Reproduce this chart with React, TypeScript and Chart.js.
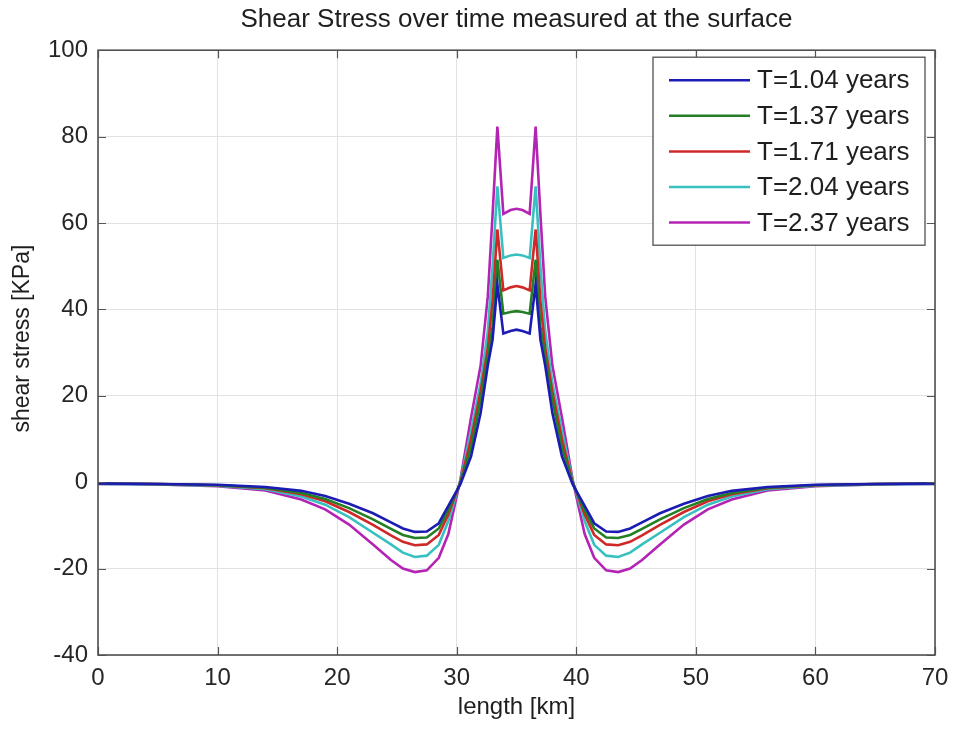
import React, { useEffect, useRef } from "react";
import { Chart, registerables } from "chart.js";

Chart.register(...registerables);

// length along the profile [km]
const lengthKm = [
  0, 5, 10, 14, 17, 19, 21, 23, 24.5, 25.5, 26.5, 27.5, 28.5, 29.3, 30.3, 31.2, 32.0, 32.6, 33.0, 33.4,
  33.9, 34.5, 35, 35.5, 36.1,
  36.6, 37.0, 37.4, 38.0, 38.8, 39.7, 40.7, 41.5, 42.5, 43.5, 44.5, 45.5, 47, 49, 51, 53, 56, 60, 65, 70,
];

const seriesLabels = ["T=1.04 years", "T=1.37 years", "T=1.71 years", "T=2.04 years", "T=2.37 years"];
const yAxisTitle = "shear stress [KPa]";

// shear stress [KPa]
const stressT104 = [
  -0.3, -0.4, -0.6, -1.1, -2.0, -3.2, -5.0, -7.2, -9.3, -10.7, -11.5, -11.4, -9.5, -5.5, -0.5, 6, 16, 27, 33, 45.8,
  34.4, 35.0, 35.3, 35.0, 34.4,
  45.8, 33, 27, 16, 6, -0.5, -5.5, -9.5, -11.4, -11.5, -10.7, -9.3, -7.2, -5.0, -3.2, -2.0, -1.1, -0.6, -0.4, -0.3,
];
const stressT137 = [
  -0.3, -0.4, -0.7, -1.3, -2.5, -3.9, -6.0, -8.6, -10.8, -12.2, -12.9, -12.8, -10.7, -6.5, -0.2, 8, 19, 29, 36, 51.5,
  39.0, 39.4, 39.6, 39.4, 39.0,
  51.5, 36, 29, 19, 8, -0.2, -6.5, -10.7, -12.8, -12.9, -12.2, -10.8, -8.6, -6.0, -3.9, -2.5, -1.3, -0.7, -0.4, -0.3,
];
const stressT171 = [
  -0.3, -0.4, -0.7, -1.4, -2.8, -4.4, -6.9, -9.9, -12.3, -13.8, -14.6, -14.4, -12.2, -7.5, 0, 10, 21, 31, 42, 58.5,
  44.4, 45.1, 45.4, 45.1, 44.4,
  58.5, 42, 31, 21, 10, 0, -7.5, -12.2, -14.4, -14.6, -13.8, -12.3, -9.9, -6.9, -4.4, -2.8, -1.4, -0.7, -0.4, -0.3,
];
const stressT204 = [
  -0.4, -0.5, -0.8, -1.6, -3.3, -5.2, -8.1, -11.7, -14.4, -16.3, -17.3, -17.0, -14.5, -9.0, 0.3, 12, 23, 35, 50, 68.5,
  51.9, 52.5, 52.7, 52.5, 51.9,
  68.5, 50, 35, 23, 12, 0.3, -9.0, -14.5, -17.0, -17.3, -16.3, -14.4, -11.7, -8.1, -5.2, -3.3, -1.6, -0.8, -0.5, -0.4,
];
const stressT237 = [
  -0.4, -0.5, -0.9, -1.9, -4.0, -6.3, -9.8, -14.4, -18.0, -20.0, -20.8, -20.4, -17.5, -12.0, 0.5, 15, 27, 43, 62, 82.3,
  62.1, 63.0, 63.3, 63.0, 62.1,
  82.3, 62, 43, 27, 15, 0.5, -12.0, -17.5, -20.4, -20.8, -20.0, -18.0, -14.4, -9.8, -6.3, -4.0, -1.9, -0.9, -0.5, -0.4,
];

const allSeries = [stressT104, stressT137, stressT171, stressT204, stressT237];
const seriesColors = ["#1c1cb4", "#237f23", "#d02828", "#38c0c0", "#b424b4"];

const FONT = "'Liberation Sans', Arial, Helvetica, sans-serif";

const framePlugin = {
  id: "frameAndLegend",
  afterDatasetsDraw(chart: any) {
    const { ctx, chartArea: a, scales } = chart;
    ctx.save();
    // inward tick marks
    ctx.strokeStyle = "#555555";
    ctx.lineWidth = 1.2;
    const t = 8;
    ctx.beginPath();
    scales.x.ticks.forEach((tk: any) => {
      const px = Math.round(scales.x.getPixelForValue(tk.value)) + 0.5;
      ctx.moveTo(px, a.bottom);
      ctx.lineTo(px, a.bottom - t);
      ctx.moveTo(px, a.top);
      ctx.lineTo(px, a.top + t);
    });
    scales.y.ticks.forEach((tk: any) => {
      const py = Math.round(scales.y.getPixelForValue(tk.value)) + 0.5;
      ctx.moveTo(a.left, py);
      ctx.lineTo(a.left + t, py);
      ctx.moveTo(a.right, py);
      ctx.lineTo(a.right - t, py);
    });
    ctx.stroke();
    // frame
    ctx.strokeStyle = "#505050";
    ctx.lineWidth = 1.6;
    ctx.strokeRect(a.left, a.top, a.right - a.left, a.bottom - a.top);

    // y axis title (slightly above the axis centre, as in the original)
    ctx.save();
    ctx.translate(23, (a.top + a.bottom) / 2 - 14);
    ctx.rotate(-Math.PI / 2);
    ctx.font = `23px ${FONT}`;
    ctx.fillStyle = "#1e1e1e";
    ctx.textAlign = "center";
    ctx.textBaseline = "middle";
    ctx.fillText(yAxisTitle, 0, 0);
    ctx.restore();

    // legend box
    const bw = 272;
    const bh = 188;
    const bx = a.right - 10 - bw;
    const by = a.top + 7;
    ctx.fillStyle = "#ffffff";
    ctx.fillRect(bx, by, bw, bh);
    ctx.strokeStyle = "#505050";
    ctx.lineWidth = 1.3;
    ctx.strokeRect(bx, by, bw, bh);
    ctx.font = `26px ${FONT}`;
    ctx.textBaseline = "middle";
    ctx.textAlign = "left";
    chart.data.datasets.forEach((ds: any, i: number) => {
      const cy = by + 23 + i * 35.6;
      ctx.strokeStyle = ds.borderColor;
      ctx.lineWidth = 2.5;
      ctx.beginPath();
      ctx.moveTo(bx + 16, cy);
      ctx.lineTo(bx + 97, cy);
      ctx.stroke();
      ctx.fillStyle = "#1e1e1e";
      ctx.fillText(ds.label, bx + 104, cy + 1);
    });
    ctx.restore();
  },
};

export default function App() {
  const canvasRef = useRef<HTMLCanvasElement | null>(null);

  useEffect(() => {
    const canvas = canvasRef.current;
    if (!canvas) return;
    const datasets = allSeries.map((vals, i) => ({
      label: seriesLabels[i],
      data: lengthKm.map((x, j) => ({ x, y: vals[j] })),
      borderColor: seriesColors[i],
      backgroundColor: seriesColors[i],
      borderWidth: 2.6,
      pointRadius: 0,
      tension: 0,
      fill: false,
    }));
    const chart = new Chart(canvas, {
      type: "line",
      data: { datasets },
      options: {
        animation: false,
        responsive: false,
        layout: { padding: { left: 0, right: 19, top: 0, bottom: 0 } },
        plugins: {
          legend: { display: false },
          tooltip: { enabled: false },
          title: {
            display: true,
            text: "Shear Stress over time measured at the surface",
            fullSize: false,
            color: "#1e1e1e",
            font: { family: FONT, size: 26, weight: "normal" },
            padding: { top: 4, bottom: 15 },
          },
        },
        scales: {
          x: {
            type: "linear",
            min: 0,
            max: 70,
            afterFit: (scale: any) => {
              scale.height = 74;
              scale.paddingLeft = 0;
              scale.paddingRight = 0;
            },
            ticks: {
              stepSize: 10,
              color: "#262626",
              font: { family: FONT, size: 24 },
              padding: 9,
              maxRotation: 0,
            },
            grid: { color: "#e2e2e2", lineWidth: 1, drawTicks: false },
            border: { display: false },
            title: {
              display: true,
              text: "length [km]",
              color: "#1e1e1e",
              font: { family: FONT, size: 24 },
              padding: { top: 0, bottom: 7 },
            },
          },
          y: {
            type: "linear",
            min: -40,
            max: 100,
            afterFit: (scale: any) => {
              scale.width = 98;
              scale.paddingTop = 0;
              scale.paddingBottom = 0;
            },
            ticks: {
              stepSize: 20,
              color: "#262626",
              font: { family: FONT, size: 24 },
              padding: 10,
            },
            grid: { color: "#e2e2e2", lineWidth: 1, drawTicks: false },
            border: { display: false },
            title: { display: false },
          },
        },
      },
      plugins: [framePlugin],
    });
    return () => chart.destroy();
  }, []);

  return (
    <div style={{ position: "fixed", left: 0, top: 0, width: 954, height: 729, background: "#ffffff" }}>
      <canvas ref={canvasRef} width={954} height={729} style={{ display: "block" }} />
    </div>
  );
}
